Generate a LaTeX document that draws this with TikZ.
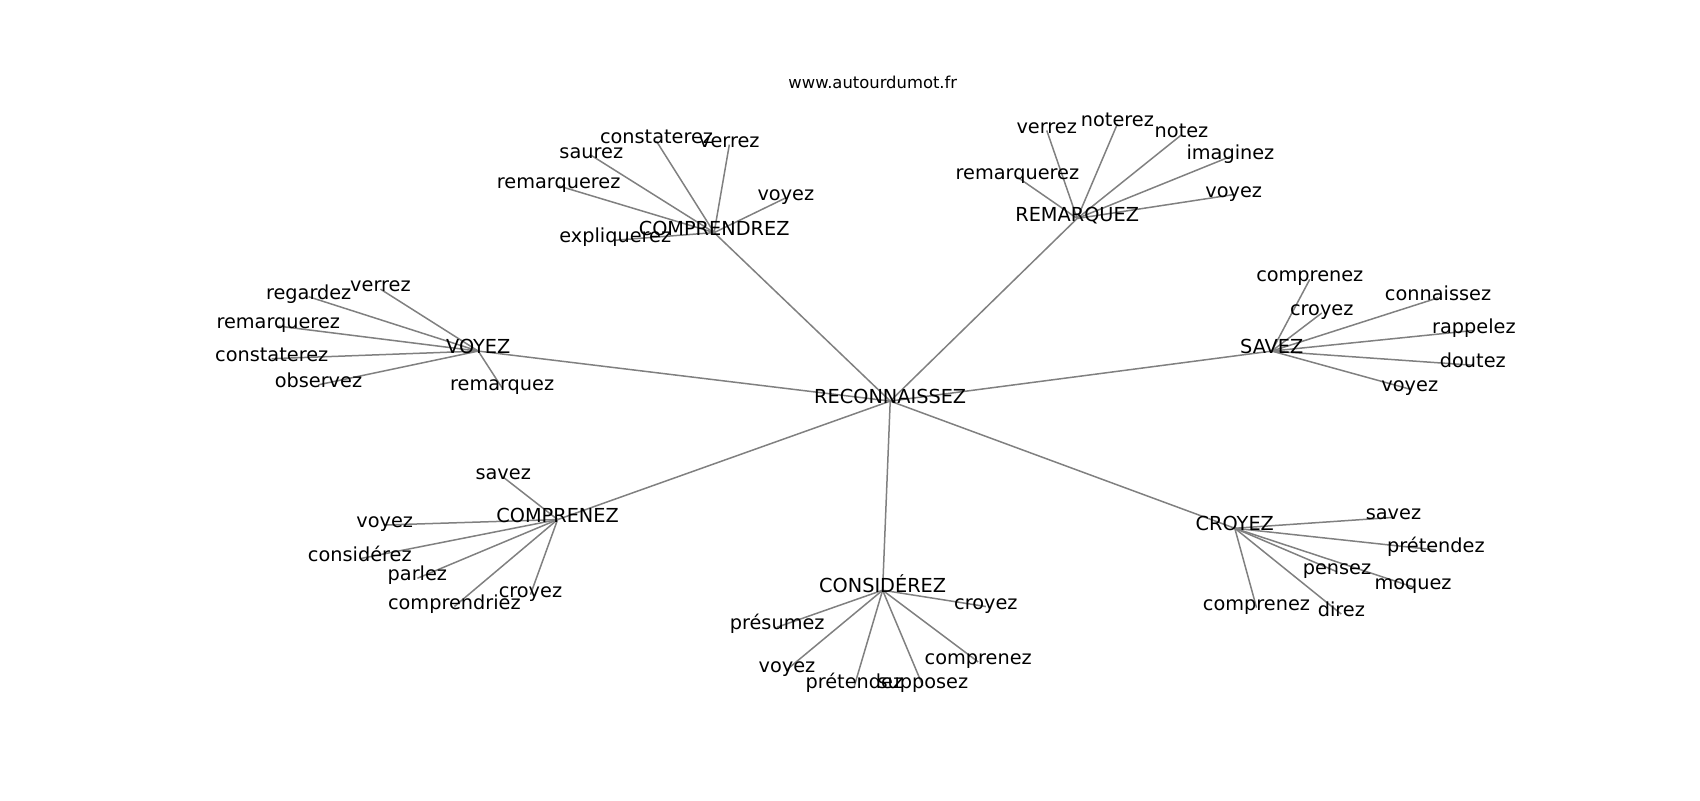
\documentclass[tikz,border=0pt]{standalone}
\usepackage{fontspec}
\setmainfont{DejaVu Sans}
\usetikzlibrary{backgrounds}
\begin{document}
\begin{tikzpicture}[x=1.087pt,y=-1.087pt,
  lbl/.style={inner sep=0pt,outer sep=0pt,anchor=center,text height=0.76em,text depth=0.24em,font=\fontsize{19.3}{22}\selectfont},
  ttl/.style={inner sep=0pt,anchor=center,font=\fontsize{16.4}{19}\selectfont},
  edge/.style={draw=black!50,line width=1.5pt}]
\useasboundingbox (0,0) rectangle (1564,736);
\node[ttl] (title) at (803,76) {www.autourdumot.fr};
% hubs
\node[lbl] (r) at (819,369) {RECONNAISSEZ};
\node[lbl] (cd) at (657,214) {COMPRENDREZ};
\node[lbl] (rq) at (991,201) {REMARQUEZ};
\node[lbl] (vo) at (440,323) {VOYEZ};
\node[lbl] (sa) at (1170,323) {SAVEZ};
\node[lbl] (cp) at (513,478) {COMPRENEZ};
\node[lbl] (cs) at (812,543) {CONSIDÉREZ};
\node[lbl] (cr) at (1136,486) {CROYEZ};
% COMPRENDREZ leaves
\node[lbl] (cd1) at (544,143) {saurez};
\node[lbl] (cd2) at (604,130) {constaterez};
\node[lbl] (cd3) at (671,133) {verrez};
\node[lbl] (cd4) at (514,171) {remarquerez};
\node[lbl] (cd5) at (723,182) {voyez};
\node[lbl] (cd6) at (566,221) {expliquerez};
% REMARQUEZ leaves
\node[lbl] (rq1) at (963,120) {verrez};
\node[lbl] (rq2) at (1028,114) {noterez};
\node[lbl] (rq3) at (1087,124) {notez};
\node[lbl] (rq4) at (1132,144) {imaginez};
\node[lbl] (rq5) at (936,163) {remarquerez};
\node[lbl] (rq6) at (1135,179) {voyez};
% VOYEZ leaves
\node[lbl] (vo1) at (350,266) {verrez};
\node[lbl] (vo2) at (284,273) {regardez};
\node[lbl] (vo3) at (256,300) {remarquerez};
\node[lbl] (vo4) at (250,330) {constaterez};
\node[lbl] (vo5) at (293,354) {observez};
\node[lbl] (vo6) at (462,357) {remarquez};
% SAVEZ leaves
\node[lbl] (sa1) at (1205,257) {comprenez};
\node[lbl] (sa2) at (1216,288) {croyez};
\node[lbl] (sa3) at (1323,274) {connaissez};
\node[lbl] (sa4) at (1356,304) {rappelez};
\node[lbl] (sa5) at (1355,336) {doutez};
\node[lbl] (sa6) at (1297,358) {voyez};
% COMPRENEZ leaves
\node[lbl] (cp1) at (463,439) {savez};
\node[lbl] (cp2) at (354,483) {voyez};
\node[lbl] (cp3) at (331,514) {considérez};
\node[lbl] (cp4) at (384,532) {parlez};
\node[lbl] (cp5) at (418,558) {comprendriez};
\node[lbl] (cp6) at (488,547) {croyez};
% CONSIDEREZ leaves
\node[lbl] (cs1) at (907,558) {croyez};
\node[lbl] (cs2) at (715,577) {présumez};
\node[lbl] (cs3) at (724,616) {voyez};
\node[lbl] (cs4) at (786,631) {prétendez};
\node[lbl] (cs5) at (849,631) {supposez};
\node[lbl] (cs6) at (900,609) {comprenez};
% CROYEZ leaves
\node[lbl] (cr1) at (1282,476) {savez};
\node[lbl] (cr2) at (1321,506) {prétendez};
\node[lbl] (cr3) at (1230,526) {pensez};
\node[lbl] (cr4) at (1300,540) {moquez};
\node[lbl] (cr5) at (1156,559) {comprenez};
\node[lbl] (cr6) at (1234,565) {direz};
\begin{pgfonlayer}{background}
\foreach \h in {cd,rq,vo,sa,cp,cs,cr}{
  \draw[edge] (r.center) -- (\h.center);
  \foreach \i in {1,...,6}{
    \draw[edge] (\h.center) -- (\h\i.center);
  }
}
\end{pgfonlayer}
\end{tikzpicture}
\end{document}
